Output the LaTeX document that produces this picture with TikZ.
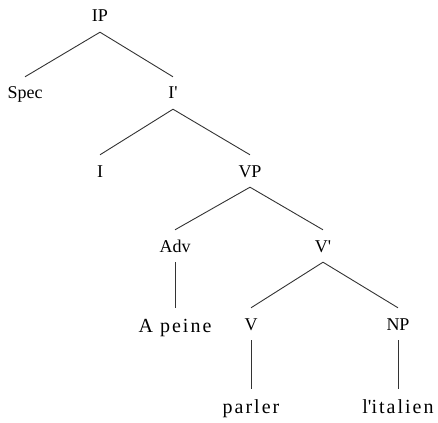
\documentclass[tikz,border=0pt]{standalone}
\usepackage{fontspec}
\setmainfont{Liberation Serif}
\newfontfamily\leaffont[LetterSpace=10]{Liberation Serif}
\usepackage{tikz}
\usetikzlibrary{positioning}

\begin{document}
\begin{tikzpicture}[
  x=1pt, y=-1pt,
  cat/.style={anchor=base,inner xsep=2pt,inner ysep=8pt,
    text height=14pt,text depth=2pt,font=\fontsize{18}{20}\selectfont},
  leaf/.style={anchor=base,inner xsep=2pt,inner ysep=8pt,
    text height=16pt,text depth=4pt,font=\leaffont\fontsize{20}{22}\selectfont},
  branch/.style={line width=0.9pt,black!80}
  ]
  \useasboundingbox (0,0) rectangle (438,422);

  % categories, placed on their baselines
  \node [cat] (IP)   at (100,22)  {IP};
  \node [cat] (Spec) at (25,99)   {Spec};
  \node [cat] (Ib)   at (173,99)  {I\textquotesingle};
  \node [cat] (I)    at (100,177) {I};
  \node [cat] (VP)   at (250,177) {VP};
  \node [cat] (Adv)  at (175,252) {Adv};
  \node [cat] (Vb)   at (323,252) {V\textquotesingle};
  \node [cat] (V)    at (251,330) {V};
  \node [cat] (NP)   at (398,330) {NP};

  % words
  \node [leaf] (Apeine) at (175,332) {A peine};
  \node [leaf] (parler) at (251,413) {parler};
  \node [leaf] (litalien) at (398,413) {l\textquotesingle italien};

  \draw[branch] (IP.south) edge (Spec.north)
                (IP.south) edge (Ib.north)
                (Ib.south) edge (I.north)
                (Ib.south) edge (VP.north)
                (VP.south) edge (Adv.north)
                (VP.south) edge (Vb.north)
                (Vb.south) edge (V.north)
                (Vb.south) edge (NP.north);
  \draw[branch] (Adv.south) -- (Apeine.north);
  \draw[branch] (V.south) -- (parler.north);
  \draw[branch] (NP.south) -- (litalien.north);
\end{tikzpicture}
\end{document}
